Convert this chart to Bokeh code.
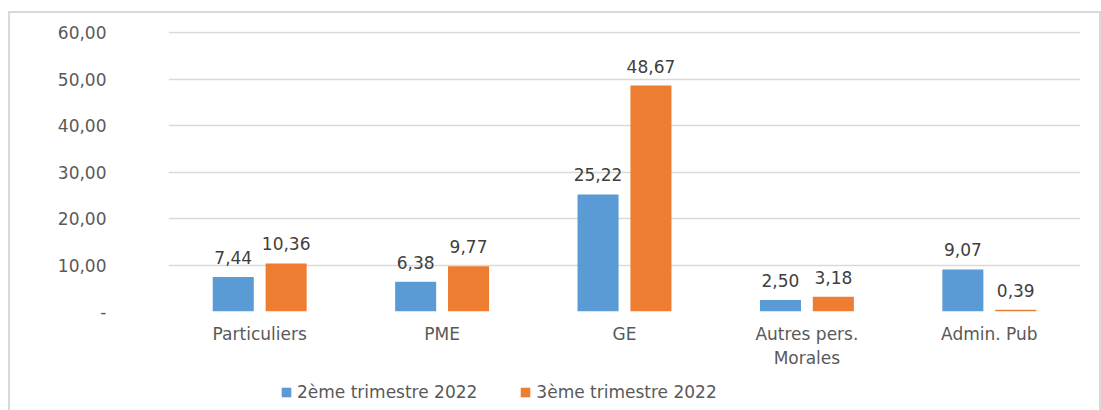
from bokeh.plotting import figure
from bokeh.layouts import column
from bokeh.models import ColumnDataSource, FactorRange, FixedTicker, Legend, LegendItem, LabelSet
from bokeh.core.properties import value
from bokeh.transform import dodge
from bokeh.embed import file_html
from bokeh.resources import INLINE

categories = ["Particuliers", "PME", "GE", "Autres pers.\nMorales", "Admin. Pub"]
q2_2022 = [7.44, 6.38, 25.22, 2.50, 9.07]
q3_2022 = [10.36, 9.77, 48.67, 3.18, 0.39]
series_names = ["2ème trimestre 2022", "3ème trimestre 2022"]
y_ticks = [0, 10, 20, 30, 40, 50, 60]
y_tick_labels = ["-", "10,00", "20,00", "30,00", "40,00", "50,00", "60,00"]

BLUE = "#5B9BD5"
ORANGE = "#ED7D31"
FONT = "DejaVu Sans"


def fmt(v):
    return f"{v:.2f}".replace(".", ",")


src = ColumnDataSource(dict(
    cat=categories,
    q2=q2_2022,
    q3=q3_2022,
    q2_txt=[fmt(v) for v in q2_2022],
    q3_txt=[fmt(v) for v in q3_2022],
))

p = figure(
    x_range=FactorRange(*categories),
    y_range=(0, 60.3),
    width=1089, height=357,
    output_backend="svg", toolbar_location=None,
    min_border_left=158, min_border_right=19,
    min_border_top=18, min_border_bottom=59,
)
p.outline_line_color = None
p.background_fill_color = "white"
p.border_fill_color = "white"

off = 0.145
bw = 0.225
r1 = p.vbar(x=dodge("cat", -off, range=p.x_range), top="q2", width=bw, source=src,
            fill_color=BLUE, line_color=None)
r2 = p.vbar(x=dodge("cat", off, range=p.x_range), top="q3", width=bw, source=src,
            fill_color=ORANGE, line_color=None)

for xo, col in ((-off, "q2"), (off, "q3")):
    ls = LabelSet(x=dodge("cat", xo, range=p.x_range), y=col, text=col + "_txt", source=src,
                  text_align="center", text_baseline="bottom", y_offset=13,
                  text_font=value(FONT), text_font_size=value("17px"), text_color=value("#404040"))
    p.add_layout(ls)

p.xgrid.grid_line_color = None
p.ygrid.grid_line_color = "#d9d9d9"
p.ygrid.grid_line_width = 1.5

p.yaxis.ticker = FixedTicker(ticks=y_ticks)
p.yaxis.major_label_overrides = {t: l for t, l in zip(y_ticks, y_tick_labels)}
for ax in (p.xaxis[0], p.yaxis[0]):
    ax.axis_line_color = None
    ax.major_tick_line_color = None
    ax.minor_tick_line_color = None
    ax.major_tick_out = 0
    ax.major_tick_in = 0
    ax.major_label_text_font = FONT
    ax.major_label_text_font_size = "17px"
    ax.major_label_text_color = "#595959"
p.yaxis.major_label_standoff = 62
p.xaxis.major_label_standoff = 12

# legend strip below the chart (its frame is aligned with the chart's frame)
lg = figure(width=1089, height=40, x_range=(0, 1), y_range=(0, 1),
            output_backend="svg", toolbar_location=None,
            x_axis_location=None, y_axis_location=None,
            min_border=0, min_border_left=0, min_border_right=0,
            min_border_top=0, min_border_bottom=0)
lg.outline_line_color = None
lg.xgrid.grid_line_color = None
lg.ygrid.grid_line_color = None
# the legend swatches take their colour from these renderers, kept outside the strip's view
lsrc = ColumnDataSource(dict(x=[-5.0], top=[-5.0]))
g1 = lg.vbar(x="x", top="top", bottom=-6, width=0.1, source=lsrc, fill_color=BLUE, line_color=None)
g2 = lg.vbar(x="x", top="top", bottom=-6, width=0.1, source=lsrc, fill_color=ORANGE, line_color=None)
legend = Legend(items=[LegendItem(label=series_names[0], renderers=[g1]),
                       LegendItem(label=series_names[1], renderers=[g2])],
                orientation="horizontal", location=(112, 8),
                glyph_width=12, glyph_height=12, label_standoff=5, spacing=42,
                padding=0, margin=0, border_line_color=None, background_fill_alpha=0,
                label_text_font=FONT, label_text_font_size="17px", label_text_color="#595959")
lg.add_layout(legend)

layout = column(p, lg, spacing=0, styles={
    "margin-left": "8px", "margin-top": "11px",
    "border-top": "2px solid #d9d9d9", "border-left": "2px solid #d9d9d9",
    "border-right": "2px solid #d9d9d9",
})

open("out.html", "w").write(file_html(layout, INLINE))
